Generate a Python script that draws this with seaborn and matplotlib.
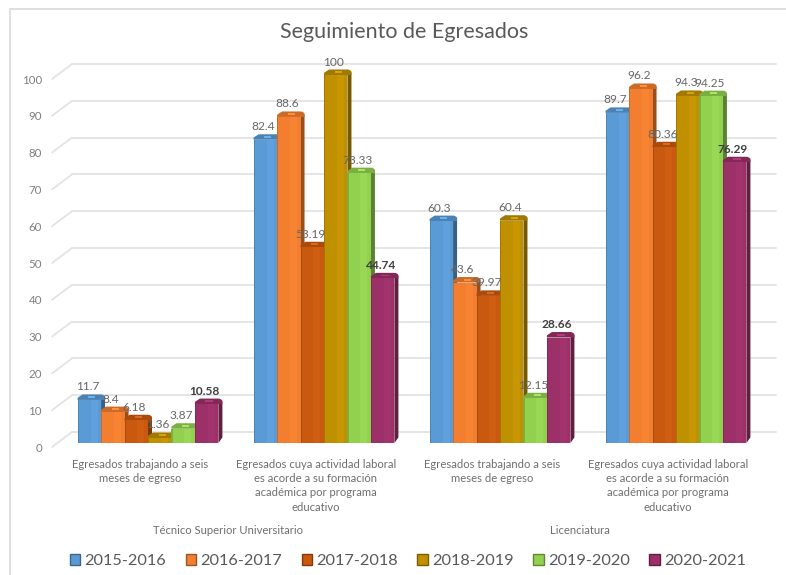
import matplotlib
matplotlib.use("Agg")
import matplotlib.pyplot as plt
import matplotlib.colors as mcolors
from matplotlib.lines import Line2D
from matplotlib.patches import Polygon, Rectangle, PathPatch
from matplotlib.path import Path
from matplotlib.transforms import ScaledTranslation, blended_transform_factory
import pandas as pd
import seaborn as sns

title = "Seguimiento de Egresados"
indicator_a = "Egresados trabajando a seis\nmeses de egreso"
indicator_b = ("Egresados cuya actividad laboral\nes acorde a su formación\n"
               "académica por programa\neducativo")
tick_labels = [indicator_a, indicator_b, indicator_a, indicator_b]
groups = ["Técnico Superior Universitario", "Licenciatura"]
periods = ["2015-2016", "2016-2017", "2017-2018", "2018-2019", "2019-2020", "2020-2021"]
colors = ["#5B9BD5", "#F37E30", "#C8590F", "#BF9000", "#92D050", "#9C3068"]

v_2015 = [11.7, 82.4, 60.3, 89.7]
v_2016 = [8.4, 88.6, 43.6, 96.2]
v_2017 = [6.18, 53.19, 39.97, 80.36]
v_2018 = [1.36, 100, 60.4, 94.3]
v_2019 = [3.87, 73.33, 12.15, 94.25]
v_2020 = [10.58, 44.74, 28.66, 76.29]
series = [v_2015, v_2016, v_2017, v_2018, v_2019, v_2020]

W, H = 786, 575
sns.set_style("white")
plt.rcParams["font.family"] = ["Lato", "DejaVu Sans"]

df = pd.DataFrame({
    "slot": [i for _ in periods for i in range(4)],
    "period": [p for p in periods for _ in range(4)],
    "value": [v for s in series for v in s],
})

fig = plt.figure(figsize=(W / 100, H / 100), dpi=100, facecolor="white")
AX_L, AX_R, AX_T, AX_B = 60, 764, 75, 443
ax = fig.add_axes([AX_L / W, 1 - AX_B / H, (AX_R - AX_L) / W, (AX_B - AX_T) / H])
sns.barplot(data=df, x="slot", y="value", hue="period", hue_order=periods,
            palette=colors, saturation=1, width=0.8, gap=0, ax=ax, legend=True,
            zorder=5, linewidth=0, edgecolor="none", clip_on=False)
ax.set_xlim(-0.5, 3.5)
ax.set_ylim(0, 100)
ax.set_xlabel("")
ax.set_ylabel("")
ax.patch.set_alpha(0)
for s in ax.spines.values():
    s.set_visible(False)

PX = 4 / (AX_R - AX_L)   # data x per pixel
PY = 100 / (AX_B - AX_T)  # data y per pixel
px_pt = 72 / 100


def px_shift(dx, dy):
    return ScaledTranslation(dx * px_pt / 72, dy * px_pt / 72, fig.dpi_scale_trans)


# outer chart frame: left and top edges only
FRAME = "#DCDCDC"
fig.add_artist(Line2D([9.5 / W, 9.5 / W], [0, 1 - 8.5 / H], color=FRAME, lw=1.3))
fig.add_artist(Line2D([9.5 / W, 1], [1 - 8.5 / H, 1 - 8.5 / H], color=FRAME, lw=1.3))

# back wall gridlines and floor diagonals
GRID = "#E3E3E3"
for v in range(0, 101, 10):
    ax.plot([-0.5 + 12 * PX, 3.5 + 12 * PX], [v + 11 * PY, v + 11 * PY], color=GRID, lw=1.3,
            clip_on=False, zorder=1)
    ax.plot([-0.5 - 8 * PX, -0.5 + 12 * PX], [v - 4 * PY, v + 11 * PY], color=GRID, lw=1.3,
            clip_on=False, zorder=1)

# y ticks on the front plane
ax.set_yticks(range(0, 101, 10))
ax.tick_params(axis="y", length=0, pad=13, labelsize=8.3, labelcolor="#7F7F7F")
for lab in ax.get_yticklabels():
    lab.set_transform(lab.get_transform() + px_shift(0, -4))

ax.set_xticks(range(4))
ax.set_xticklabels(tick_labels, linespacing=1.36)
ax.tick_params(axis="x", length=0, pad=11.5, labelsize=8.1, labelcolor="#6E6E6E")
for lab in ax.get_xticklabels():
    lab.set_transform(lab.get_transform() + px_shift(-8, 0))

# group captions
tr = blended_transform_factory(ax.transData, fig.transFigure)
for xc, g in zip([0.5, 2.5], groups):
    ax.text(xc - 8 * PX, 1 - 531 / H, g, transform=tr, ha="center", va="center",
            fontsize=8.1, color="#6E6E6E")

# 3D look for each bar
D_X, D_Y = 4.0, 5.5
for k, (cont, col) in enumerate(zip(ax.containers, colors)):
    rgb = mcolors.to_rgb(col)
    dark = tuple(c * 0.62 for c in rgb)
    edge = tuple(c * 0.84 for c in rgb)
    light = tuple(min(1, c * 1.08 + 0.03) for c in rgb)
    z = 5 + k * 0.1
    for bar in cont:
        x, w, h = bar.get_x(), bar.get_width(), bar.get_height()
        bar.set_zorder(z + 0.03)
        dx, dy = D_X * PX, D_Y * PY
        ax.add_patch(Polygon([(x + w, 0), (x + w + dx, dy), (x + w + dx, h + dy * 0.5), (x + w, h)],
                             closed=True, fc=dark, ec="none", zorder=z, clip_on=False))
        verts = [(x, h), (x, h + 0.4 * dy), (x + 2.5 * PX, h + 0.7 * dy), (x + 5 * PX, h + dy),
                 (x + w, h + dy), (x + w + dx * 0.7, h + dy), (x + w + dx, h + dy * 0.6),
                 (x + w + dx, h), (x, h)]
        codes = [Path.MOVETO, Path.LINETO, Path.LINETO, Path.LINETO, Path.LINETO,
                 Path.CURVE3, Path.CURVE3, Path.LINETO, Path.CLOSEPOLY]
        ax.add_patch(PathPatch(Path(verts, codes), fc=edge, ec="none", zorder=z + 0.01,
                               clip_on=False))
        ax.add_patch(Rectangle((x + w * 0.45, h + 0.35 * dy), w * 0.3, 0.35 * dy, fc=light,
                               ec="none", zorder=z + 0.02, clip_on=False))
        ax.add_patch(Rectangle((x, 0), 1.2 * PX, h, fc=edge, ec="none", zorder=z + 0.04))
        ax.add_patch(Rectangle((x + w * 0.55, 0), w * 0.3, h, fc=light, ec="none", alpha=0.35,
                               zorder=z + 0.04))

# data labels
for k, (cont, vals) in enumerate(zip(ax.containers, series)):
    last = k == len(series) - 1
    for bar, v in zip(cont, vals):
        ax.annotate(f"{v:g}", (bar.get_x() + bar.get_width() / 2, v),
                    xytext=(-2 * px_pt, 13 * px_pt), textcoords="offset points",
                    ha="center", va="center", fontsize=8.6, zorder=20,
                    fontweight="bold" if last else "normal",
                    color="#404040" if last else "#666666")

# title and legend
fig.text(404 / W, 1 - 32 / H, title, ha="center", va="center", fontsize=15.5, color="#595959")
handles, labels = ax.get_legend_handles_labels()
ax.get_legend().remove()
leg = fig.legend(handles, labels, loc="center", bbox_to_anchor=(408 / W, 1 - 561 / H), ncol=6,
                 frameon=False, fontsize=11.8, handlelength=0.62, handleheight=0.62,
                 handletextpad=0.3, columnspacing=1.17, labelcolor="#595959")
for hd, col in zip(leg.legend_handles, colors):
    hd.set_edgecolor(tuple(c * 0.65 for c in mcolors.to_rgb(col)))
    hd.set_linewidth(1.0)

fig.savefig("out.png", dpi=100, facecolor="white")
